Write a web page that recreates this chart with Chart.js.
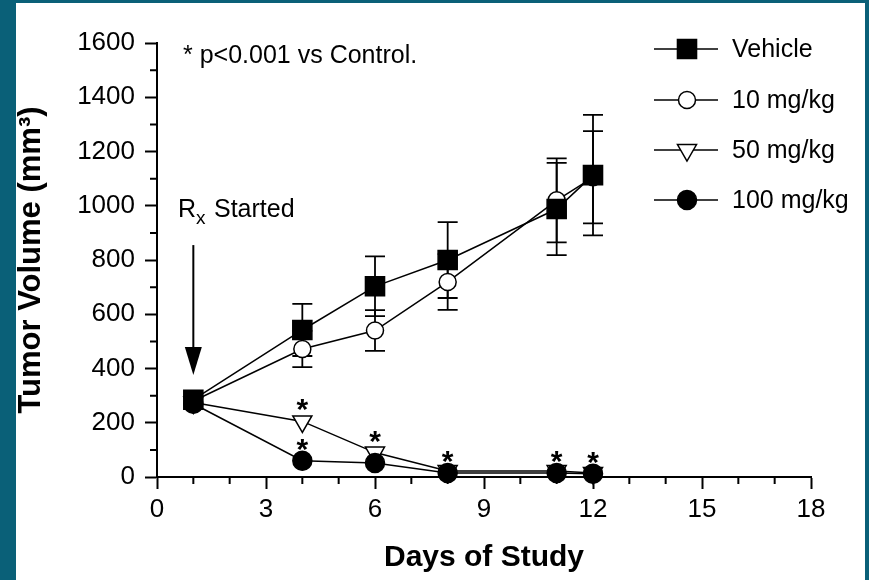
<!DOCTYPE html>
<html>
<head>
<meta charset="utf-8">
<script src="https://cdn.jsdelivr.net/npm/chart.js@4.4.0/dist/chart.umd.min.js"></script>
<style>
html, body { margin: 0; padding: 0; background: #0a6078; }
#wrap { width: 869px; height: 580px; }
</style>
</head>
<body>
<div id="wrap"><canvas id="chart" width="869" height="580"></canvas></div>
<script>
// Days on which tumors were measured
const days = [1, 4, 6, 8, 11, 12];

// Mean tumor volume (mm3) per group
const vehicle = [285, 542, 703, 800, 988, 1113];
const dose10 = [280, 472, 540, 719, 1020, 1105];
const dose50 = [275, 205, 90, 22, 22, 15];
const dose100 = [270, 60, 52, 15, 15, 12];

// Error bars (only visible for vehicle and 10 mg/kg)
const vehicleErr = [0, 96, 110, 140, 170, 222];
const dose10Err = [0, 67, 75, 103, 155, 170];

// Days marked with a star (p<0.001 vs control)
const starDays50 = [4, 6];
const starDays100 = [4, 8, 11, 12];

// Labelled ticks
const xLabels = [0, 3, 6, 9, 12, 15, 18];
const yLabels = [0, 200, 400, 600, 800, 1000, 1200, 1400, 1600];

// Rx started arrow (day, top value, tip value)
const rxDay = 1;
const rxTop = 855;
const rxTip = 376;

const FONT = '"Liberation Sans", Arial, sans-serif';
Chart.defaults.font.family = FONT;
Chart.defaults.color = '#000';

function points(vals) {
    return days.map((d, i) => ({ x: d, y: vals[i] }));
}

// teal frame with white page
const background = {
    id: 'background',
    beforeDraw(chart) {
        const ctx = chart.ctx;
        ctx.save();
        ctx.fillStyle = '#0a6078';
        ctx.fillRect(0, 0, chart.width, chart.height);
        ctx.fillStyle = '#fff';
        ctx.fillRect(16, 3, chart.width - 16 - 4, chart.height - 3);
        ctx.restore();
    }
};

// short minor ticks + error bars under the markers
const errorBars = {
    id: 'errorBars',
    beforeDatasetsDraw(chart) {
        const { ctx, scales: { x, y } } = chart;
        ctx.save();
        ctx.strokeStyle = '#000';
        ctx.lineWidth = 2;
        ctx.beginPath();
        for (let v = 0; v <= 18; v++) {
            if (xLabels.includes(v)) continue;
            const px = x.getPixelForValue(v);
            ctx.moveTo(px, y.bottom);
            ctx.lineTo(px, y.bottom + 7);
        }
        for (let v = 0; v <= 1600; v += 100) {
            if (yLabels.includes(v)) continue;
            const py = y.getPixelForValue(v);
            ctx.moveTo(x.left - 7, py);
            ctx.lineTo(x.left, py);
        }
        ctx.stroke();

        ctx.lineWidth = 1.8;
        [[vehicle, vehicleErr], [dose10, dose10Err]].forEach(([vals, errs]) => {
            days.forEach((d, i) => {
                if (!errs[i]) return;
                const px = x.getPixelForValue(d);
                const top = y.getPixelForValue(vals[i] + errs[i]);
                const bot = y.getPixelForValue(vals[i] - errs[i]);
                ctx.beginPath();
                ctx.moveTo(px, top); ctx.lineTo(px, bot);
                ctx.moveTo(px - 10, top); ctx.lineTo(px + 10, top);
                ctx.moveTo(px - 10, bot); ctx.lineTo(px + 10, bot);
                ctx.stroke();
            });
        });
        ctx.restore();
    }
};

// stars, notes, arrow and legend
const annotations = {
    id: 'annotations',
    afterDatasetsDraw(chart) {
        const { ctx, scales: { x, y } } = chart;
        ctx.save();
        ctx.fillStyle = '#000';
        ctx.strokeStyle = '#000';

        // stars
        ctx.font = 'bold 30px ' + FONT;
        ctx.textAlign = 'center';
        ctx.textBaseline = 'alphabetic';
        const star = (vals, list) => list.forEach(d => {
            const i = days.indexOf(d);
            ctx.fillText('*', x.getPixelForValue(d), y.getPixelForValue(vals[i]) - 2);
        });
        star(dose50, starDays50);
        star(dose100, starDays100);

        // note
        ctx.textAlign = 'left';
        ctx.font = '25px ' + FONT;
        ctx.fillText('* p<0.001 vs Control.', 183, 63);

        // Rx started
        ctx.font = '25px ' + FONT;
        ctx.fillText('R', 178, 217);
        const rw = ctx.measureText('R').width;
        ctx.font = '19px ' + FONT;
        ctx.fillText('x', 178 + rw, 224);
        ctx.font = '25px ' + FONT;
        ctx.fillText('Started', 214, 217);

        const ax = x.getPixelForValue(rxDay);
        const aTop = y.getPixelForValue(rxTop);
        const aTip = y.getPixelForValue(rxTip);
        ctx.lineWidth = 2;
        ctx.beginPath();
        ctx.moveTo(ax, aTop);
        ctx.lineTo(ax, aTip - 26);
        ctx.stroke();
        ctx.beginPath();
        ctx.moveTo(ax - 8.5, aTip - 28);
        ctx.lineTo(ax + 8.5, aTip - 28);
        ctx.lineTo(ax, aTip);
        ctx.closePath();
        ctx.fill();

        // legend
        const rows = [49, 100, 150, 200];
        ctx.font = '25px ' + FONT;
        ctx.textBaseline = 'middle';
        chart.data.datasets.forEach((ds, i) => {
            const ly = rows[i];
            ctx.lineWidth = 1.5;
            ctx.strokeStyle = '#000';
            ctx.beginPath();
            ctx.moveTo(654, ly);
            ctx.lineTo(718, ly);
            ctx.stroke();
            ctx.fillStyle = ds.pointBackgroundColor;
            ctx.lineWidth = ds.pointBorderWidth;
            Chart.helpers.drawPoint(ctx, {
                pointStyle: ds.pointStyle,
                radius: ds.pointRadius,
                rotation: ds.pointRotation || 0,
                borderWidth: ds.pointBorderWidth
            }, 687, ly);
            ctx.fillStyle = '#000';
            ctx.fillText(ds.label, 732, ly + 1);
        });
        ctx.restore();
    }
};

function series(label, vals, style, radius, fill, order, rotation) {
    return {
        label: label,
        data: points(vals),
        order: order,
        borderColor: '#000',
        borderWidth: 1.5,
        backgroundColor: fill,
        pointStyle: style,
        pointRadius: radius,
        pointHoverRadius: radius,
        pointRotation: rotation || 0,
        pointBackgroundColor: fill,
        pointBorderColor: '#000',
        pointBorderWidth: 1.5,
        tension: 0,
        clip: false
    };
}

const ctx = document.getElementById('chart').getContext('2d');
new Chart(ctx, {
    type: 'line',
    data: {
        datasets: [
            series('Vehicle', vehicle, 'rect', 13.5, '#000', 0),
            series('10 mg/kg', dose10, 'circle', 8.5, '#fff', 1),
            series('50 mg/kg', dose50, 'triangle', 11, '#fff', 3, 180),
            series('100 mg/kg', dose100, 'circle', 9.5, '#000', 2)
        ]
    },
    options: {
        responsive: false,
        animation: false,
        devicePixelRatio: 1,
        layout: { padding: { left: 16, right: 58, top: 43, bottom: 0 } },
        plugins: {
            legend: { display: false },
            tooltip: { enabled: false }
        },
        scales: {
            x: {
                type: 'linear',
                min: 0,
                max: 18,
                ticks: {
                    stepSize: 1,
                    autoSkip: false,
                    maxRotation: 0,
                    padding: 5,
                    color: '#000',
                    font: { size: 26 },
                    callback: v => xLabels.includes(v) ? String(v) : ''
                },
                grid: {
                    drawOnChartArea: false,
                    tickLength: 12,
                    tickWidth: 2,
                    tickColor: c => xLabels.includes(c.tick.value) ? '#000' : 'rgba(0,0,0,0)'
                },
                border: { color: '#000', width: 2 },
                title: {
                    display: true,
                    text: 'Days of Study',
                    color: '#000',
                    font: { size: 30, weight: 'bold', lineHeight: 1 },
                    padding: { top: 0, bottom: 7 }
                },
                afterFit: s => { s.height = 103; }
            },
            y: {
                min: 0,
                max: 1600,
                ticks: {
                    stepSize: 100,
                    autoSkip: false,
                    padding: 10,
                    color: '#000',
                    font: { size: 26 },
                    callback: v => yLabels.includes(v) ? String(v) : ''
                },
                grid: {
                    drawOnChartArea: false,
                    tickLength: 12,
                    tickWidth: 2,
                    tickColor: c => yLabels.includes(c.tick.value) ? '#000' : 'rgba(0,0,0,0)'
                },
                border: { color: '#000', width: 2 },
                title: {
                    display: true,
                    text: 'Tumor Volume (mm³)',
                    color: '#000',
                    font: { size: 31, weight: 'bold', lineHeight: 1 },
                    padding: { top: 0, bottom: 0 }
                },
                afterFit: s => { s.width = 141; }
            }
        }
    },
    plugins: [background, errorBars, annotations]
});
</script>
</body>
</html>
